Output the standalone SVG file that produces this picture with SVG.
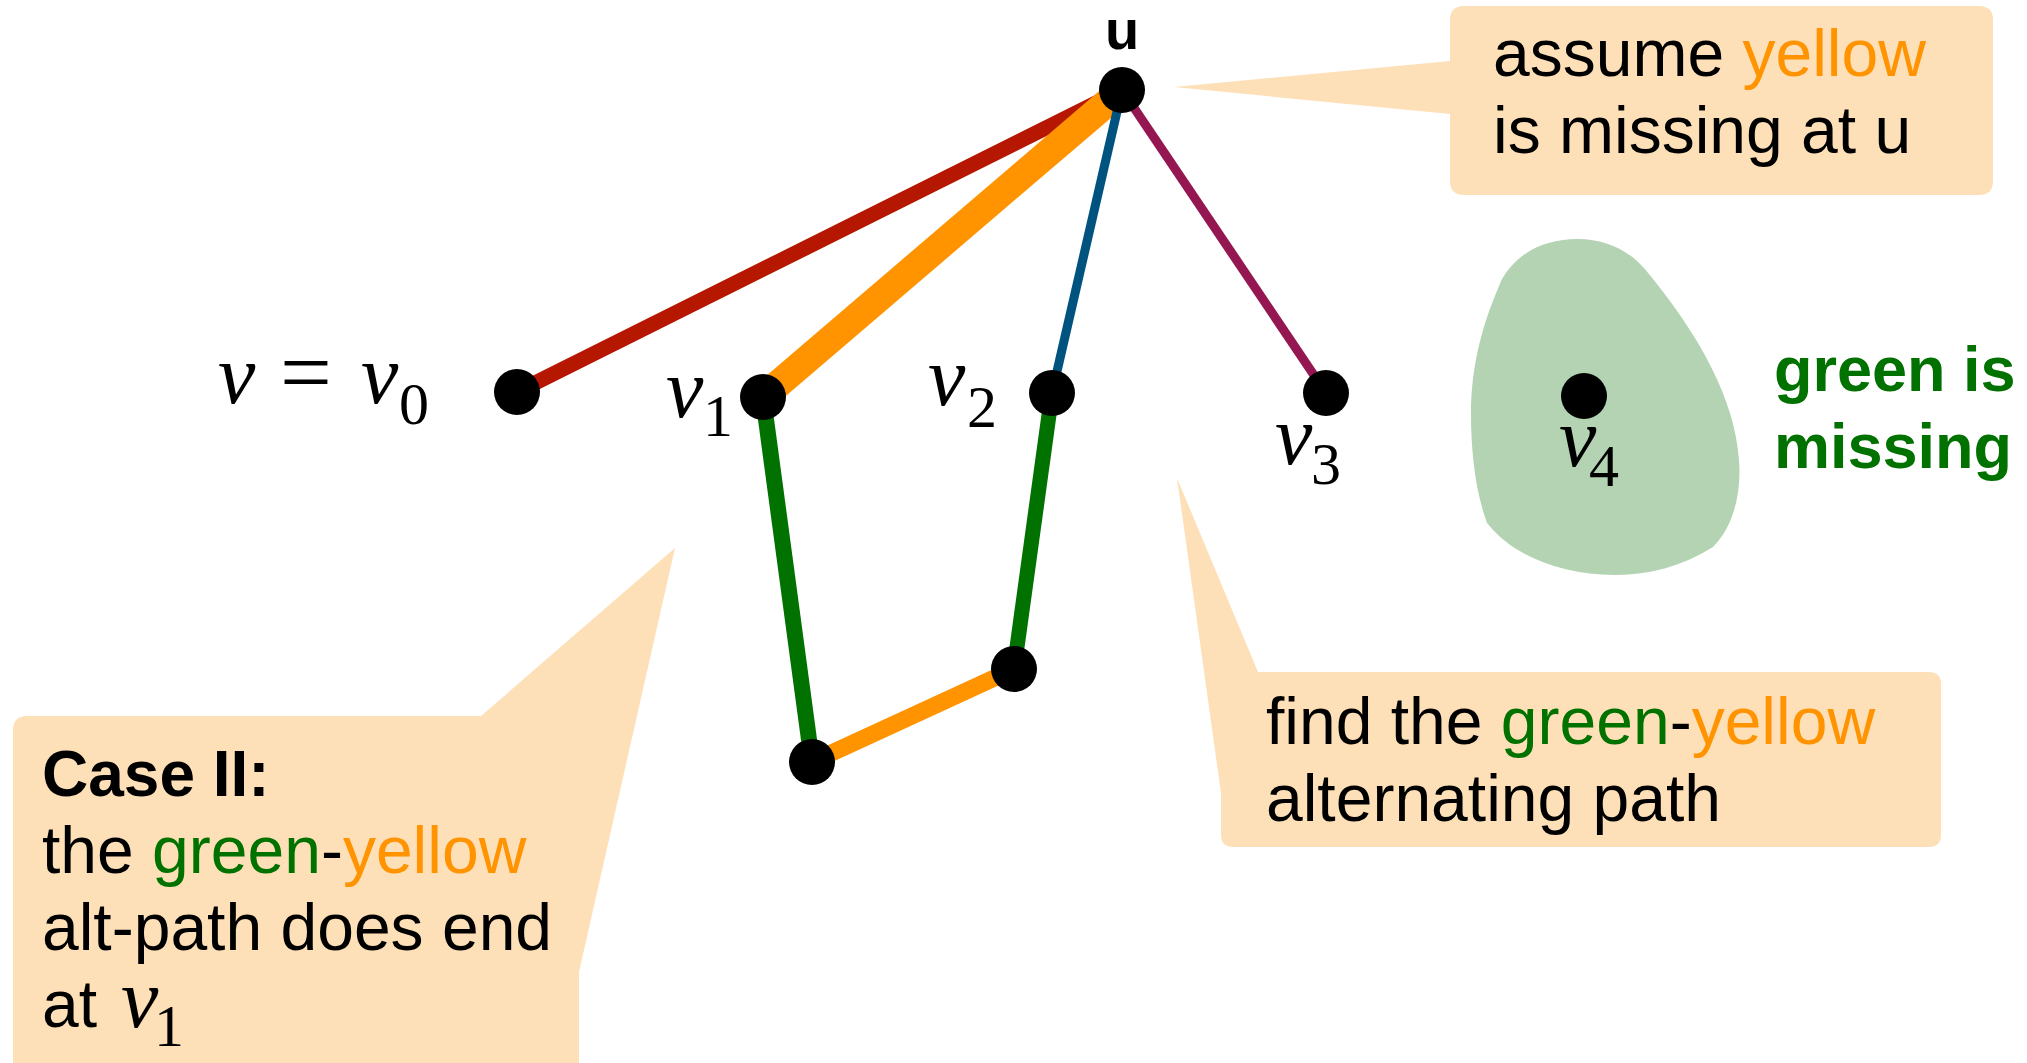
<svg xmlns="http://www.w3.org/2000/svg" width="2027" height="1063" viewBox="0 0 2027 1063">
<style>
.call{fill:#FDE0B8;stroke:none}
.t{font-family:"Liberation Sans",Arial,Helvetica,sans-serif;font-size:66px;fill:#000}
.b{font-weight:bold}
.g{fill:#017100}
.y{fill:#FF9300}
.m{font-family:"Liberation Serif","Times New Roman",serif;font-size:84px;fill:#000}
.mi{font-style:italic}
.sub{font-family:"Liberation Serif","Times New Roman",serif;font-size:60px;fill:#000}
.node{fill:#000}
.e{fill:none;stroke-linecap:butt}
</style>
<rect width="2027" height="1063" fill="#fff"/>

<g id="callout-top">
<path class="call" d="M1464 6 H1979 Q1993 6 1993 20 V181 Q1993 195 1979 195 H1464 Q1450 195 1450 181 V114 L1174 87 L1450 61 V20 Q1450 6 1464 6 Z"/>
<text class="t" x="1493" y="76">assume <tspan class="y">yellow</tspan></text>
<text class="t" x="1493" y="153">is missing at u</text>
</g>

<g id="callout-case">
<path class="call" d="M27 716 H481 L675 548 L579 972 V1063 H13 V730 Q13 716 27 716 Z"/>
<text class="t b" x="42" y="796" style="font-size:64px">Case II:</text>
<text class="t" x="42" y="873">the <tspan class="g">green</tspan>-<tspan class="y">yellow</tspan></text>
<text class="t" x="42" y="950">alt-path does end</text>
<text class="t" x="42" y="1027">at</text>
<text class="m mi" x="121" y="1027">v</text>
<text class="sub" x="154" y="1046">1</text>
</g>

<g id="callout-find">
<path class="call" d="M1258 672 H1929 Q1941 672 1941 684 V835 Q1941 847 1929 847 H1233 Q1221 847 1221 835 V793 L1177 478 Z"/>
<text class="t" x="1266" y="744">find the <tspan class="g">green</tspan>-<tspan class="y">yellow</tspan></text>
<text class="t" x="1266" y="821">alternating path</text>
</g>

<g id="blob">
<path fill="#B3D3B3" d="M1502 279 C1518 252 1545 239 1578 239 C1605 239 1628 250 1644 268 C1700 335 1735 400 1739 460 C1742 500 1730 530 1713 547 C1682 566 1650 575 1615 575 C1560 575 1512 555 1487 523 C1475 490 1471 450 1471 414 C1471 362 1484 320 1502 279 Z"/>
</g>

<g id="connectors">
<line class="e" x1="517" y1="392" x2="1122" y2="90" stroke="#B51700" stroke-width="15"/>
<line class="e" x1="763" y1="397" x2="1122" y2="90" stroke="#FF9300" stroke-width="28"/>
<line class="e" x1="1052" y1="393" x2="1122" y2="90" stroke="#00527F" stroke-width="9"/>
<line class="e" x1="1326" y1="393" x2="1122" y2="90" stroke="#941751" stroke-width="9"/>
<line class="e" x1="763" y1="397" x2="812" y2="762" stroke="#017100" stroke-width="16"/>
<line class="e" x1="812" y1="762" x2="1014" y2="669" stroke="#FF9300" stroke-width="17"/>
<line class="e" x1="1014" y1="669" x2="1052" y2="393" stroke="#017100" stroke-width="15"/>
</g>

<g id="node-u">
<circle class="node" cx="1122" cy="90" r="23"/>
<text class="t b" x="1122" y="49" text-anchor="middle" style="font-size:56px">u</text>
</g>
<g id="node-v0">
<circle class="node" cx="517" cy="392" r="23"/>
<text class="m mi" x="218" y="403">v</text>
<text class="m" x="280" y="403" style="font-size:92px">=</text>
<text class="m mi" x="361" y="403">v</text>
<text class="sub" x="399" y="424">0</text>
</g>
<g id="node-v1">
<circle class="node" cx="763" cy="397" r="23"/>
<text class="m mi" x="666" y="417">v</text>
<text class="sub" x="703" y="436">1</text>
</g>
<g id="node-v2">
<circle class="node" cx="1052" cy="393" r="23"/>
<text class="m mi" x="928" y="405">v</text>
<text class="sub" x="967" y="427">2</text>
</g>
<g id="node-v3">
<circle class="node" cx="1326" cy="393" r="23"/>
<text class="m mi" x="1275" y="464">v</text>
<text class="sub" x="1311" y="484">3</text>
</g>
<g id="node-v4">
<circle class="node" cx="1584" cy="396" r="23"/>
<text class="m mi" x="1559" y="466">v</text>
<text class="sub" x="1589" y="486">4</text>
</g>
<g id="node-p1">
<circle class="node" cx="812" cy="762" r="23"/>
</g>
<g id="node-p2">
<circle class="node" cx="1014" cy="669" r="23"/>
</g>

<g id="label-green">
<text class="t b g" x="1774" y="391" style="font-size:63px">green is</text>
<text class="t b g" x="1774" y="468" style="font-size:63px">missing</text>
</g>
</svg>
